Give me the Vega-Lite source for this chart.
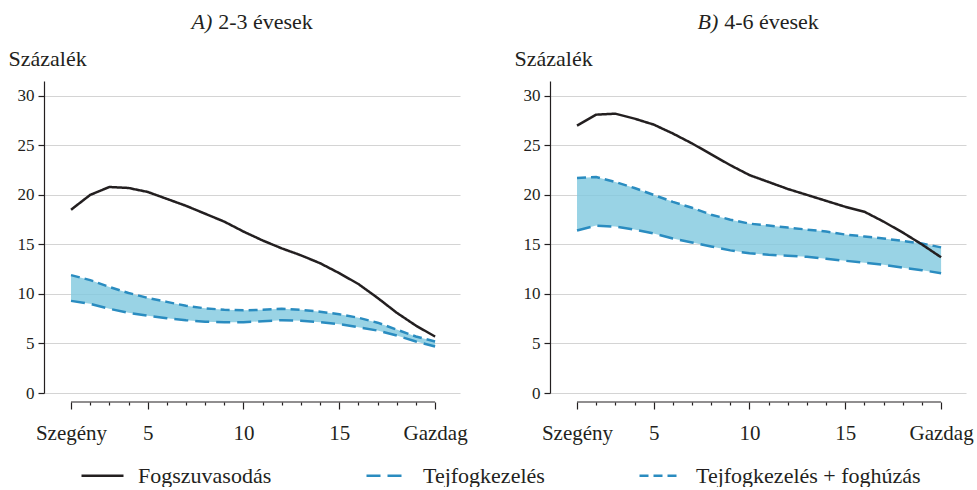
{
  "$schema": "https://vega.github.io/schema/vega-lite/v6.json",
  "padding": {"left": 8, "top": 10, "right": 0, "bottom": 0},
  "background": "white",
  "config": {
    "font": "Liberation Serif",
    "view": {"stroke": null},
    "axis": {"labelFont": "Liberation Serif", "titleFont": "Liberation Serif", "labelColor": "#231f20", "titleColor": "#231f20", "titleFontWeight": "normal"},
    "legend": {"labelFont": "Liberation Serif"}
  },
  "data": {"values": [
    {"p": "A", "x": 1, "caries": 18.5, "treat": 9.3, "treat_ext": 11.9},
    {"p": "A", "x": 2, "caries": 20.0, "treat": 9.0, "treat_ext": 11.4},
    {"p": "A", "x": 3, "caries": 20.8, "treat": 8.5, "treat_ext": 10.7},
    {"p": "A", "x": 4, "caries": 20.7, "treat": 8.1, "treat_ext": 10.1},
    {"p": "A", "x": 5, "caries": 20.3, "treat": 7.8, "treat_ext": 9.6},
    {"p": "A", "x": 6, "caries": 19.6, "treat": 7.55, "treat_ext": 9.2},
    {"p": "A", "x": 7, "caries": 18.9, "treat": 7.35, "treat_ext": 8.8},
    {"p": "A", "x": 8, "caries": 18.1, "treat": 7.2, "treat_ext": 8.55},
    {"p": "A", "x": 9, "caries": 17.3, "treat": 7.15, "treat_ext": 8.4},
    {"p": "A", "x": 10, "caries": 16.3, "treat": 7.15, "treat_ext": 8.35},
    {"p": "A", "x": 11, "caries": 15.4, "treat": 7.25, "treat_ext": 8.4},
    {"p": "A", "x": 12, "caries": 14.6, "treat": 7.35, "treat_ext": 8.5},
    {"p": "A", "x": 13, "caries": 13.9, "treat": 7.3, "treat_ext": 8.4},
    {"p": "A", "x": 14, "caries": 13.1, "treat": 7.15, "treat_ext": 8.2},
    {"p": "A", "x": 15, "caries": 12.1, "treat": 6.95, "treat_ext": 7.95},
    {"p": "A", "x": 16, "caries": 11.0, "treat": 6.65, "treat_ext": 7.6},
    {"p": "A", "x": 17, "caries": 9.6, "treat": 6.3, "treat_ext": 7.1},
    {"p": "A", "x": 18, "caries": 8.1, "treat": 5.8, "treat_ext": 6.4},
    {"p": "A", "x": 19, "caries": 6.8, "treat": 5.2, "treat_ext": 5.7},
    {"p": "A", "x": 20, "caries": 5.7, "treat": 4.7, "treat_ext": 5.2},
    {"p": "B", "x": 1, "caries": 27.0, "treat": 16.4, "treat_ext": 21.7},
    {"p": "B", "x": 2, "caries": 28.1, "treat": 16.9, "treat_ext": 21.8},
    {"p": "B", "x": 3, "caries": 28.2, "treat": 16.8, "treat_ext": 21.3},
    {"p": "B", "x": 4, "caries": 27.7, "treat": 16.5, "treat_ext": 20.7},
    {"p": "B", "x": 5, "caries": 27.1, "treat": 16.1, "treat_ext": 20.0},
    {"p": "B", "x": 6, "caries": 26.2, "treat": 15.6, "treat_ext": 19.3},
    {"p": "B", "x": 7, "caries": 25.2, "treat": 15.2, "treat_ext": 18.7},
    {"p": "B", "x": 8, "caries": 24.1, "treat": 14.8, "treat_ext": 18.0},
    {"p": "B", "x": 9, "caries": 23.0, "treat": 14.4, "treat_ext": 17.5},
    {"p": "B", "x": 10, "caries": 22.0, "treat": 14.1, "treat_ext": 17.1},
    {"p": "B", "x": 11, "caries": 21.3, "treat": 13.95, "treat_ext": 16.9},
    {"p": "B", "x": 12, "caries": 20.6, "treat": 13.85, "treat_ext": 16.7},
    {"p": "B", "x": 13, "caries": 20.0, "treat": 13.75, "treat_ext": 16.5},
    {"p": "B", "x": 14, "caries": 19.4, "treat": 13.55, "treat_ext": 16.3},
    {"p": "B", "x": 15, "caries": 18.8, "treat": 13.35, "treat_ext": 16.0},
    {"p": "B", "x": 16, "caries": 18.3, "treat": 13.15, "treat_ext": 15.8},
    {"p": "B", "x": 17, "caries": 17.3, "treat": 12.95, "treat_ext": 15.6},
    {"p": "B", "x": 18, "caries": 16.2, "treat": 12.65, "treat_ext": 15.35},
    {"p": "B", "x": 19, "caries": 15.0, "treat": 12.4, "treat_ext": 15.1},
    {"p": "B", "x": 20, "caries": 13.7, "treat": 12.1, "treat_ext": 14.7}
  ]},
  "hconcat": [
    {
      "width": 416,
      "height": 312,
      "transform": [{"filter": "datum.p == 'A'"}],
      "layer": [
        {
          "mark": {"type": "area", "color": "#7fc8df", "opacity": 0.8},
          "encoding": {
            "x": {"field": "x", "type": "quantitative",
              "scale": {"domain": [-0.41, 21.3], "nice": false, "zero": false},
              "axis": {"values": [1,2,3,4,5,6,7,8,9,10,11,12,13,14,15,16,17,18,19,20], "title": null, "domain": false, "grid": false, "offset": 9,
                "tickColor": "#231f20", "tickWidth": 1.2,
                "tickSize": {"condition": {"test": "datum.value % 5 == 0 || datum.value == 1", "value": 7}, "value": 3},
                "labelExpr": "datum.value == 1 ? 'Szegény' : datum.value == 20 ? 'Gazdag' : datum.value % 5 == 0 ? datum.label : ''",
                "labelFontSize": 21, "labelPadding": 13, "labelOverlap": false, "labelFlush": false}},
            "y": {"field": "treat", "type": "quantitative",
              "scale": {"domain": [0, 31.5], "nice": false},
              "axis": {"title": "Százalék", "values": [0,5,10,15,20,25,30], "grid": true, "gridColor": "#d4d4d4", "gridWidth": 1.2, "domainColor": "#231f20", "domainWidth": 1.2, "tickColor": "#231f20", "tickWidth": 1.2, "tickSize": 6,
                "labelFontSize": 17, "labelPadding": 4, "titleAngle": 0, "titleAlign": "left", "titleBaseline": "alphabetic", "titleX": -36, "titleY": -16, "titleFontSize": 22}},
            "y2": {"field": "treat_ext"}
          }
        },
        {
          "data": {"values": [{}]},
          "mark": {"type": "rule", "color": "#231f20", "strokeWidth": 1.2},
          "encoding": {
            "x": {"datum": 1, "type": "quantitative",
              "axis": {"orient": "top", "title": "2-3 évesek", "labels": false, "ticks": false, "domain": false, "grid": false, "titleX": 221, "titleY": -53, "titleBaseline": "alphabetic", "titleFontSize": 22}},
            "x2": {"datum": 20},
            "y": {"datum": -0.91, "type": "quantitative",
              "axis": {"orient": "right", "title": "A)", "titleFontStyle": "italic", "labels": false, "ticks": false, "domain": false, "grid": false, "titleAngle": 0, "titleAlign": "left", "titleBaseline": "alphabetic", "titleX": -269, "titleY": -53, "titleFontSize": 22}}
          }
        },
        {
          "transform": [{"fold": ["treat", "treat_ext", "caries"], "as": ["series", "value"]}],
          "mark": {"type": "line", "strokeWidth": 2.5},
          "encoding": {
            "x": {"field": "x", "type": "quantitative", "axis": null},
            "y": {"field": "value", "type": "quantitative", "axis": null},
            "color": {"field": "series", "type": "nominal",
              "scale": {"domain": ["caries", "treat", "treat_ext"], "range": ["#231f20", "#2a8cc0", "#2a8cc0"]},
              "legend": {"orient": "none", "legendX": 36, "legendY": 372, "direction": "horizontal", "title": null, "symbolType": "stroke", "symbolSize": 1764, "symbolStrokeWidth": 2.5, "labelFontSize": 22, "labelColor": "#231f20", "labelLimit": 400, "columnPadding": 89, "labelOffset": 13,
                "labelExpr": "datum.value == 'caries' ? 'Fogszuvasodás' : datum.value == 'treat' ? 'Tejfogkezelés' : 'Tejfogkezelés + foghúzás'"}},
            "strokeDash": {"field": "series", "type": "nominal",
              "scale": {"domain": ["caries", "treat", "treat_ext"], "range": [[1, 0], [14, 7], [9, 5]]},
              "legend": {"orient": "none", "legendX": 36, "legendY": 372, "direction": "horizontal", "title": null, "symbolType": "stroke", "symbolSize": 1764, "symbolStrokeWidth": 2.5, "labelFontSize": 22, "labelColor": "#231f20", "labelLimit": 400, "columnPadding": 89, "labelOffset": 13,
                "labelExpr": "datum.value == 'caries' ? 'Fogszuvasodás' : datum.value == 'treat' ? 'Tejfogkezelés' : 'Tejfogkezelés + foghúzás'"}}
          }
        }
      ],
      "resolve": {"axis": {"x": "independent", "y": "independent"}}
    },
    {
      "width": 416,
      "height": 312,
      "transform": [{"filter": "datum.p == 'B'"}],
      "layer": [
        {
          "mark": {"type": "area", "color": "#7fc8df", "opacity": 0.8},
          "encoding": {
            "x": {"field": "x", "type": "quantitative",
              "scale": {"domain": [-0.41, 21.3], "nice": false, "zero": false},
              "axis": {"values": [1,2,3,4,5,6,7,8,9,10,11,12,13,14,15,16,17,18,19,20], "title": null, "domain": false, "grid": false, "offset": 9,
                "tickColor": "#231f20", "tickWidth": 1.2,
                "tickSize": {"condition": {"test": "datum.value % 5 == 0 || datum.value == 1", "value": 7}, "value": 3},
                "labelExpr": "datum.value == 1 ? 'Szegény' : datum.value == 20 ? 'Gazdag' : datum.value % 5 == 0 ? datum.label : ''",
                "labelFontSize": 21, "labelPadding": 13, "labelOverlap": false, "labelFlush": false}},
            "y": {"field": "treat", "type": "quantitative",
              "scale": {"domain": [0, 31.5], "nice": false},
              "axis": {"title": "Százalék", "values": [0,5,10,15,20,25,30], "grid": true, "gridColor": "#d4d4d4", "gridWidth": 1.2, "domainColor": "#231f20", "domainWidth": 1.2, "tickColor": "#231f20", "tickWidth": 1.2, "tickSize": 6,
                "labelFontSize": 17, "labelPadding": 4, "titleAngle": 0, "titleAlign": "left", "titleBaseline": "alphabetic", "titleX": -36, "titleY": -16, "titleFontSize": 22}},
            "y2": {"field": "treat_ext"}
          }
        },
        {
          "data": {"values": [{}]},
          "mark": {"type": "rule", "color": "#231f20", "strokeWidth": 1.2},
          "encoding": {
            "x": {"datum": 1, "type": "quantitative",
              "axis": {"orient": "top", "title": "4-6 évesek", "labels": false, "ticks": false, "domain": false, "grid": false, "titleX": 221, "titleY": -53, "titleBaseline": "alphabetic", "titleFontSize": 22}},
            "x2": {"datum": 20},
            "y": {"datum": -0.91, "type": "quantitative",
              "axis": {"orient": "right", "title": "B)", "titleFontStyle": "italic", "labels": false, "ticks": false, "domain": false, "grid": false, "titleAngle": 0, "titleAlign": "left", "titleBaseline": "alphabetic", "titleX": -269, "titleY": -53, "titleFontSize": 22}}
          }
        },
        {
          "transform": [{"fold": ["treat", "treat_ext", "caries"], "as": ["series", "value"]}],
          "mark": {"type": "line", "strokeWidth": 2.5},
          "encoding": {
            "x": {"field": "x", "type": "quantitative", "axis": null},
            "y": {"field": "value", "type": "quantitative", "axis": null},
            "color": {"field": "series", "type": "nominal",
              "scale": {"domain": ["caries", "treat", "treat_ext"], "range": ["#231f20", "#2a8cc0", "#2a8cc0"]}},
            "strokeDash": {"field": "series", "type": "nominal",
              "scale": {"domain": ["caries", "treat", "treat_ext"], "range": [[1, 0], [14, 7], [9, 5]]}}
          }
        }
      ],
      "resolve": {"axis": {"x": "independent", "y": "independent"}}
    }
  ],
  "spacing": 90,
  "bounds": "flush",
  "resolve": {"scale": {"color": "shared", "strokeDash": "shared"}, "legend": {"color": "shared", "strokeDash": "shared"}}
}
